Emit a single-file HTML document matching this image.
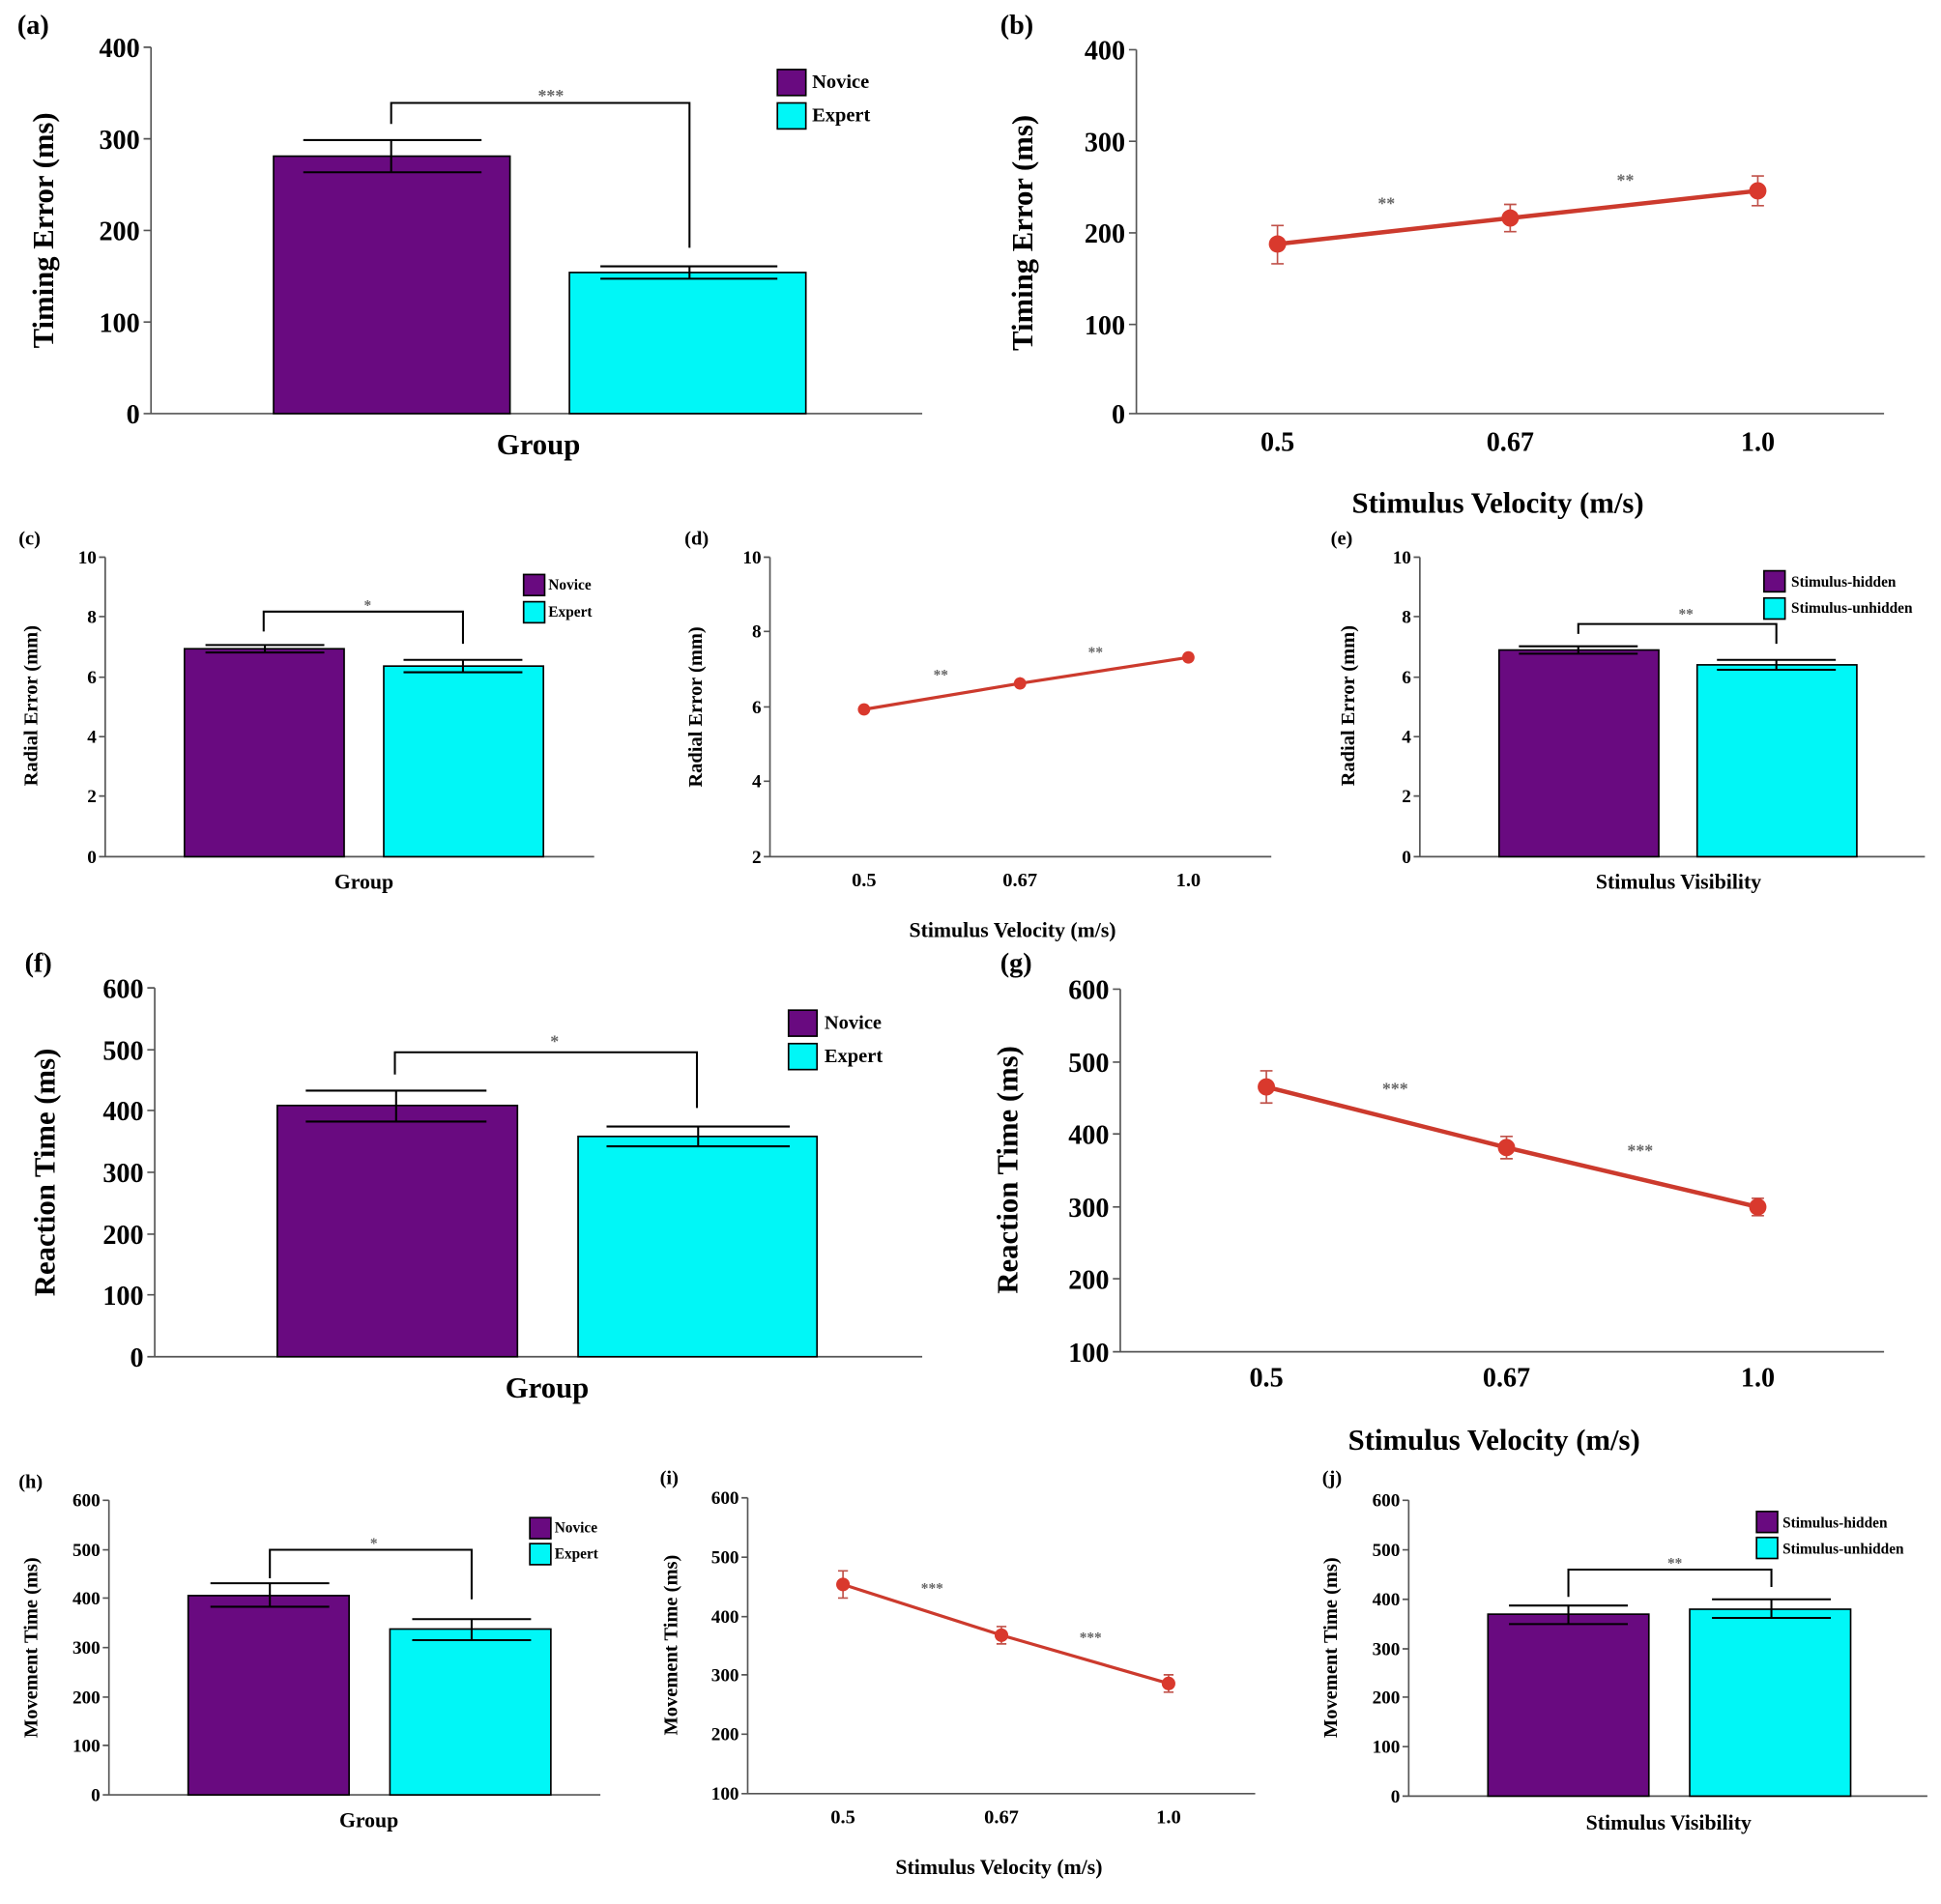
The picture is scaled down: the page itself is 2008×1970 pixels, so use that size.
<!DOCTYPE html>
<html><head><meta charset="utf-8"><style>html,body{margin:0;padding:0;background:#fff}svg{display:block}text{font-family:"Liberation Serif",serif;font-weight:bold;fill:#000}</style></head><body>
<svg width="2008" height="1970" viewBox="0 0 1568 1538" xmlns="http://www.w3.org/2000/svg">
<rect width="1568" height="1538" fill="#fff"/>
<defs><style>.ax{stroke:#555;stroke-width:1.3;fill:none}.k{stroke:#000;stroke-width:1.6;fill:none}.nv{fill:#690a80;stroke:#000;stroke-width:1.3}.ex{fill:#00f7f7;stroke:#000;stroke-width:1.3}.ln{stroke:#cc3a2d;stroke-width:3.5;fill:none}.eb{stroke:#c0524a;stroke-width:1.3;fill:none}.st{fill:#666}</style></defs>

<!-- (a) -->
<text x="14" y="27" font-size="22">(a)</text>
<path class="ax" d="M122 38V334H745M116 38H122M116 112H122M116 186H122M116 260H122M116 334H122"/>
<g font-size="22" text-anchor="end"><text x="113" y="46">400</text><text x="113" y="120">300</text><text x="113" y="194">200</text><text x="113" y="268">100</text><text x="113" y="342">0</text></g>
<text transform="translate(43,186) rotate(-90)" font-size="24" text-anchor="middle">Timing Error (ms)</text>
<rect class="nv" x="221" y="126" width="191" height="208"/><rect class="ex" x="460" y="220" width="191" height="114"/>
<path class="k" d="M245 113H389M316 113V139M245 139H389M485 215H628M557 215V225M485 225H628M316 100V83H557V200"/>
<text x="445" y="82" font-size="14" class="st" text-anchor="middle">***</text>
<rect class="nv" x="628" y="56" width="23" height="21"/><rect class="ex" x="628" y="83" width="23" height="21"/>
<text x="656" y="71" font-size="16">Novice</text><text x="656" y="98" font-size="16">Expert</text>
<text x="435" y="367" font-size="24" text-anchor="middle">Group</text>

<!-- (b) -->
<text x="808" y="27" font-size="22">(b)</text>
<path class="ax" d="M918 40V334H1522M912 40H918M912 114H918M912 188H918M912 262H918M912 334H918"/>
<g font-size="22" text-anchor="end"><text x="909" y="48">400</text><text x="909" y="122">300</text><text x="909" y="196">200</text><text x="909" y="270">100</text><text x="909" y="342">0</text></g>
<text transform="translate(834,188) rotate(-90)" font-size="24" text-anchor="middle">Timing Error (ms)</text>
<path class="eb" d="M1032 182V213M1027 182H1037M1027 213H1037M1220 165V187M1215 165H1225M1215 187H1225M1420 142V166M1415 142H1425M1415 166H1425"/>
<path class="ln" d="M1032 197L1220 176L1420 154"/>
<g fill="#d9392d"><circle cx="1032" cy="197" r="7"/><circle cx="1220" cy="176" r="7"/><circle cx="1420" cy="154" r="7"/></g>
<text x="1120" y="169" font-size="14" class="st" text-anchor="middle">**</text><text x="1313" y="150" font-size="14" class="st" text-anchor="middle">**</text>
<g font-size="22" text-anchor="middle"><text x="1032" y="364">0.5</text><text x="1220" y="364">0.67</text><text x="1420" y="364">1.0</text></g>
<text x="1210" y="414" font-size="24" text-anchor="middle">Stimulus Velocity (m/s)</text>

<!-- (c) -->
<text x="15" y="440" font-size="16">(c)</text>
<path class="ax" d="M85 450V692H480M80 450H85M80 498H85M80 547H85M80 595H85M80 643H85M80 692H85"/>
<g font-size="15" text-anchor="end"><text x="78" y="455">10</text><text x="78" y="503">8</text><text x="78" y="552">6</text><text x="78" y="600">4</text><text x="78" y="648">2</text><text x="78" y="697">0</text></g>
<text transform="translate(30,570) rotate(-90)" font-size="16" text-anchor="middle">Radial Error (mm)</text>
<rect class="nv" x="149" y="524" width="129" height="168"/><rect class="ex" x="310" y="538" width="129" height="154"/>
<path class="k" d="M166 521H262M214 521V527M166 527H262M326 533H422M374 533V543M326 543H422M213 510V494H374V520"/>
<text x="297" y="493" font-size="12" class="st" text-anchor="middle">*</text>
<rect class="nv" x="423" y="464" width="17" height="17"/><rect class="ex" x="423" y="486" width="17" height="17"/>
<text x="443" y="476" font-size="12">Novice</text><text x="443" y="498" font-size="12">Expert</text>
<text x="294" y="718" font-size="17" text-anchor="middle">Group</text>

<!-- (d) -->
<text x="553" y="440" font-size="16">(d)</text>
<path class="ax" d="M622 450V692H1027M617 450H622M617 510H622M617 571H622M617 631H622M617 692H622"/>
<g font-size="15" text-anchor="end"><text x="615" y="455">10</text><text x="615" y="515">8</text><text x="615" y="576">6</text><text x="615" y="636">4</text><text x="615" y="697">2</text></g>
<text transform="translate(567,571) rotate(-90)" font-size="16" text-anchor="middle">Radial Error (mm)</text>
<path class="ln" style="stroke-width:2.5" d="M698 573L824 552L960 531"/>
<path class="eb" d="M824 547V557"/>
<g fill="#d9392d"><circle cx="698" cy="573" r="5"/><circle cx="824" cy="552" r="5"/><circle cx="960" cy="531" r="5"/></g>
<text x="760" y="549" font-size="12" class="st" text-anchor="middle">**</text><text x="885" y="531" font-size="12" class="st" text-anchor="middle">**</text>
<g font-size="16" text-anchor="middle"><text x="698" y="716">0.5</text><text x="824" y="716">0.67</text><text x="960" y="716">1.0</text></g>
<text x="818" y="757" font-size="17" text-anchor="middle">Stimulus Velocity (m/s)</text>

<!-- (e) -->
<text x="1075" y="440" font-size="16">(e)</text>
<path class="ax" d="M1147 450V692H1555M1142 450H1147M1142 498H1147M1142 547H1147M1142 595H1147M1142 643H1147M1142 692H1147"/>
<g font-size="15" text-anchor="end"><text x="1140" y="455">10</text><text x="1140" y="503">8</text><text x="1140" y="552">6</text><text x="1140" y="600">4</text><text x="1140" y="648">2</text><text x="1140" y="697">0</text></g>
<text transform="translate(1094,570) rotate(-90)" font-size="16" text-anchor="middle">Radial Error (mm)</text>
<rect class="nv" x="1211" y="525" width="129" height="167"/><rect class="ex" x="1371" y="537" width="129" height="155"/>
<path class="k" d="M1227 522H1323M1275 522V528M1227 528H1323M1387 533H1483M1435 533V541M1387 541H1483M1275 512V504H1435V520"/>
<text x="1362" y="500" font-size="12" class="st" text-anchor="middle">**</text>
<rect class="nv" x="1425" y="461" width="17" height="17"/><rect class="ex" x="1425" y="483" width="17" height="17"/>
<text x="1447" y="474" font-size="12">Stimulus-hidden</text><text x="1447" y="495" font-size="12">Stimulus-unhidden</text>
<text x="1356" y="718" font-size="17" text-anchor="middle">Stimulus Visibility</text>

<!-- (f) -->
<text x="20" y="785" font-size="22">(f)</text>
<path class="ax" d="M125 798V1096H745M119 798H125M119 848H125M119 897H125M119 947H125M119 997H125M119 1046H125M119 1096H125"/>
<g font-size="22" text-anchor="end"><text x="116" y="806">600</text><text x="116" y="856">500</text><text x="116" y="905">400</text><text x="116" y="955">300</text><text x="116" y="1005">200</text><text x="116" y="1054">100</text><text x="116" y="1104">0</text></g>
<text transform="translate(44,947) rotate(-90)" font-size="24" text-anchor="middle">Reaction Time (ms)</text>
<rect class="nv" x="224" y="893" width="194" height="203"/><rect class="ex" x="467" y="918" width="193" height="178"/>
<path class="k" d="M247 881H393M320 881V906M247 906H393M490 910H638M564 910V926M490 926H638M319 868V850H563V895"/>
<text x="448" y="846" font-size="14" class="st" text-anchor="middle">*</text>
<rect class="nv" x="637" y="816" width="23" height="21"/><rect class="ex" x="637" y="843" width="23" height="21"/>
<text x="666" y="831" font-size="16">Novice</text><text x="666" y="858" font-size="16">Expert</text>
<text x="442" y="1129" font-size="24" text-anchor="middle">Group</text>

<!-- (g) -->
<text x="808" y="785" font-size="22">(g)</text>
<path class="ax" d="M905 799V1092H1522M899 799H905M899 858H905M899 916H905M899 975H905M899 1033H905M899 1092H905"/>
<g font-size="22" text-anchor="end"><text x="896" y="807">600</text><text x="896" y="866">500</text><text x="896" y="924">400</text><text x="896" y="983">300</text><text x="896" y="1041">200</text><text x="896" y="1100">100</text></g>
<text transform="translate(822,945) rotate(-90)" font-size="24" text-anchor="middle">Reaction Time (ms)</text>
<path class="eb" d="M1023 865V891M1018 865H1028M1018 891H1028M1217 918V936M1212 918H1222M1212 936H1222M1420 968V982M1415 968H1425M1415 982H1425"/>
<path class="ln" d="M1023 878L1217 927L1420 975"/>
<g fill="#d9392d"><circle cx="1023" cy="878" r="7"/><circle cx="1217" cy="927" r="7"/><circle cx="1420" cy="975" r="7"/></g>
<text x="1127" y="884" font-size="14" class="st" text-anchor="middle">***</text><text x="1325" y="934" font-size="14" class="st" text-anchor="middle">***</text>
<g font-size="22" text-anchor="middle"><text x="1023" y="1120">0.5</text><text x="1217" y="1120">0.67</text><text x="1420" y="1120">1.0</text></g>
<text x="1207" y="1171" font-size="24" text-anchor="middle">Stimulus Velocity (m/s)</text>

<!-- (h) -->
<text x="15" y="1202" font-size="16">(h)</text>
<path class="ax" d="M88 1212V1450H485M83 1212H88M83 1252H88M83 1291H88M83 1331H88M83 1371H88M83 1410H88M83 1450H88"/>
<g font-size="15" text-anchor="end"><text x="81" y="1217">600</text><text x="81" y="1257">500</text><text x="81" y="1296">400</text><text x="81" y="1336">300</text><text x="81" y="1376">200</text><text x="81" y="1415">100</text><text x="81" y="1455">0</text></g>
<text transform="translate(30,1331) rotate(-90)" font-size="16" text-anchor="middle">Movement Time (ms)</text>
<rect class="nv" x="152" y="1289" width="130" height="161"/><rect class="ex" x="315" y="1316" width="130" height="134"/>
<path class="k" d="M170 1279H266M218 1279V1298M170 1298H266M333 1308H429M381 1308V1325M333 1325H429M218 1275V1252H381V1292"/>
<text x="302" y="1251" font-size="12" class="st" text-anchor="middle">*</text>
<rect class="nv" x="428" y="1226" width="17" height="17"/><rect class="ex" x="428" y="1247" width="17" height="17"/>
<text x="448" y="1238" font-size="12">Novice</text><text x="448" y="1259" font-size="12">Expert</text>
<text x="298" y="1476" font-size="17" text-anchor="middle">Group</text>

<!-- (i) -->
<text x="533" y="1199" font-size="16">(i)</text>
<path class="ax" d="M604 1210V1449H1014M599 1210H604M599 1258H604M599 1306H604M599 1353H604M599 1401H604M599 1449H604"/>
<g font-size="15" text-anchor="end"><text x="597" y="1215">600</text><text x="597" y="1263">500</text><text x="597" y="1311">400</text><text x="597" y="1358">300</text><text x="597" y="1406">200</text><text x="597" y="1454">100</text></g>
<text transform="translate(547,1329) rotate(-90)" font-size="16" text-anchor="middle">Movement Time (ms)</text>
<path class="eb" d="M681 1269V1291M677 1269H685M677 1291H685M809 1314V1328M805 1314H813M805 1328H813M944 1353V1367M940 1353H948M940 1367H948"/>
<path class="ln" style="stroke-width:2.5" d="M681 1280L809 1321L944 1360"/>
<g fill="#d9392d"><circle cx="681" cy="1280" r="5.5"/><circle cx="809" cy="1321" r="5.5"/><circle cx="944" cy="1360" r="5.5"/></g>
<text x="753" y="1287" font-size="12" class="st" text-anchor="middle">***</text><text x="881" y="1327" font-size="12" class="st" text-anchor="middle">***</text>
<g font-size="16" text-anchor="middle"><text x="681" y="1473">0.5</text><text x="809" y="1473">0.67</text><text x="944" y="1473">1.0</text></g>
<text x="807" y="1514" font-size="17" text-anchor="middle">Stimulus Velocity (m/s)</text>

<!-- (j) -->
<text x="1068" y="1199" font-size="16">(j)</text>
<path class="ax" d="M1138 1212V1451H1557M1133 1212H1138M1133 1252H1138M1133 1292H1138M1133 1332H1138M1133 1371H1138M1133 1411H1138M1133 1451H1138"/>
<g font-size="15" text-anchor="end"><text x="1131" y="1217">600</text><text x="1131" y="1257">500</text><text x="1131" y="1297">400</text><text x="1131" y="1337">300</text><text x="1131" y="1376">200</text><text x="1131" y="1416">100</text><text x="1131" y="1456">0</text></g>
<text transform="translate(1080,1331) rotate(-90)" font-size="16" text-anchor="middle">Movement Time (ms)</text>
<rect class="nv" x="1202" y="1304" width="130" height="147"/><rect class="ex" x="1365" y="1300" width="130" height="151"/>
<path class="k" d="M1219 1297H1315M1267 1297V1312M1219 1312H1315M1383 1292H1479M1431 1292V1307M1383 1307H1479M1267 1290V1268H1431V1282"/>
<text x="1353" y="1267" font-size="12" class="st" text-anchor="middle">**</text>
<rect class="nv" x="1419" y="1221" width="17" height="17"/><rect class="ex" x="1419" y="1242" width="17" height="17"/>
<text x="1440" y="1234" font-size="12">Stimulus-hidden</text><text x="1440" y="1255" font-size="12">Stimulus-unhidden</text>
<text x="1348" y="1478" font-size="17" text-anchor="middle">Stimulus Visibility</text>
</svg>
</body></html>
